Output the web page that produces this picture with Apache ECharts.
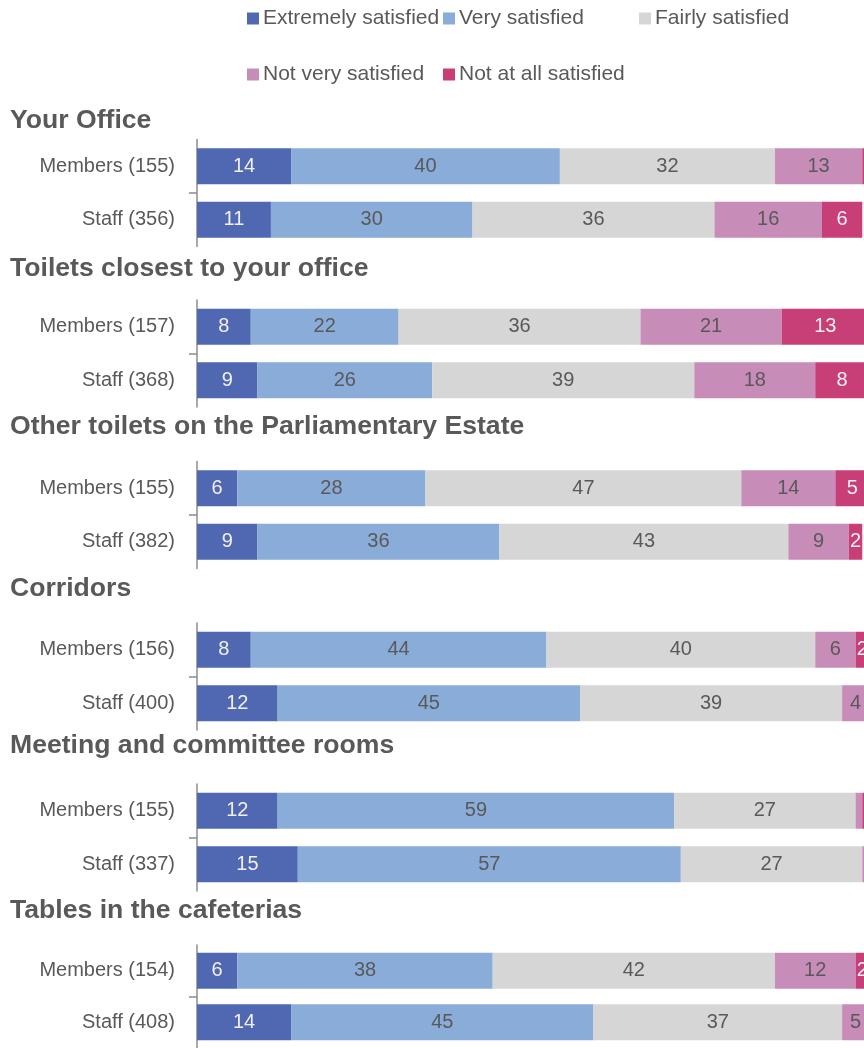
<!DOCTYPE html>
<html>
<head>
<meta charset="utf-8">
<script src="https://cdn.jsdelivr.net/npm/echarts@6/dist/echarts.min.js"></script>
<style>
  html, body { margin: 0; padding: 0; background: #ffffff; overflow: hidden; width: 864px; height: 1048px; }
  /* the plot runs slightly past the right edge of the page, as in the printed figure */
  #chart { width: 884px; height: 1048px; }
</style>
</head>
<body>
<div id="chart"></div>
<script>
// Section headings and the two respondent groups inside each section
const sections = [
  'Your Office',
  'Toilets closest to your office',
  'Other toilets on the Parliamentary Estate',
  'Corridors',
  'Meeting and committee rooms',
  'Tables in the cafeterias'
];
const groups = [
  ['Members (155)', 'Staff (356)'],
  ['Members (157)', 'Staff (368)'],
  ['Members (155)', 'Staff (382)'],
  ['Members (156)', 'Staff (400)'],
  ['Members (155)', 'Staff (337)'],
  ['Members (154)', 'Staff (408)']
];
const levels = ['Extremely satisfied', 'Very satisfied', 'Fairly satisfied', 'Not very satisfied', 'Not at all satisfied'];

// Percentages per section: [Members, Staff]
const extremelySatisfied = [[14, 11], [8, 9], [6, 9], [8, 12], [12, 15], [6, 14]];
const verySatisfied      = [[40, 30], [22, 26], [28, 36], [44, 45], [59, 57], [38, 45]];
const fairlySatisfied    = [[32, 36], [36, 39], [47, 43], [40, 39], [27, 27], [42, 37]];
const notVerySatisfied   = [[13, 16], [21, 18], [14, 9], [6, 4], [1, 1], [12, 5]];
const notAtAllSatisfied  = [[1, 6], [13, 8], [5, 2], [2, 1], [1, 0], [2, 0]];

const seriesValues = [extremelySatisfied, verySatisfied, fairlySatisfied, notVerySatisfied, notAtAllSatisfied];
const colors = ['#5068B2', '#8AACD8', '#D6D6D6', '#C88CB9', '#C83F78'];
const labelColors = ['#F0F0F0', '#595959', '#595959', '#595959', '#F0F0F0'];

const FONT = '"Liberation Sans", Arial, sans-serif';
const TEXT = '#595959';

// layout of each section block
const gridTops = [139.5, 300, 461.5, 623, 784, 945];
const headingY = [120, 268, 426, 588, 745, 910];
const gridLeft = 197, gridWidth = 672, gridHeight = 107;

const grid = [], xAxis = [], yAxis = [], series = [], graphic = [];

sections.forEach((title, g) => {
  grid.push({ left: gridLeft, top: gridTops[g], width: gridWidth, height: gridHeight, containLabel: false });
  xAxis.push({ gridIndex: g, type: 'value', min: 0, max: 100, show: false });
  // category axis carrying the bars and their labels
  yAxis.push({
    gridIndex: g, type: 'category', inverse: true, data: groups[g],
    axisLine: { show: true, lineStyle: { color: '#8C8C8C', width: 1.5 } },
    axisTick: { show: false },
    axisLabel: { color: TEXT, fontSize: 20, fontFamily: FONT, margin: 22 },
    splitLine: { show: false }
  });
  // companion axis that draws only the divider tick between the two rows
  yAxis.push({
    gridIndex: g, type: 'category', boundaryGap: false, data: ['', '', ''],
    position: 'left', offset: 0,
    axisLine: { show: false },
    axisLabel: { show: false },
    axisTick: { show: true, length: 8, interval: (i) => i === 1, lineStyle: { color: '#8C8C8C', width: 1.5 } },
    splitLine: { show: false }
  });
  graphic.push({
    type: 'text', left: 10, top: headingY[g] - 13,
    style: { text: title, fill: TEXT, font: 'bold 26.6px ' + FONT }
  });
  levels.forEach((name, s) => {
    series.push({
      name: name, type: 'bar', stack: 'sec' + g,
      xAxisIndex: g, yAxisIndex: g * 2,
      barWidth: 36,
      data: seriesValues[s][g],
      itemStyle: { color: colors[s] },
      label: {
        show: true, position: 'inside', fontSize: 20, fontFamily: FONT, color: labelColors[s],
        // slivers of 1% are too narrow to carry a number
        formatter: (p) => (p.value > 1 ? String(p.value) : '')
      },
      emphasis: { disabled: true }
    });
  });
});

// legend entries laid out in two rows
const legendSpots = [
  { name: levels[0], left: 247, top: 8 },
  { name: levels[1], left: 443, top: 8 },
  { name: levels[2], left: 639, top: 8 },
  { name: levels[3], left: 247, top: 64 },
  { name: levels[4], left: 443, top: 64 }
];
const legend = legendSpots.map((l) => ({
  data: [l.name], left: l.left, top: l.top, orient: 'horizontal',
  icon: 'rect', itemWidth: 12, itemHeight: 12, itemGap: 0, padding: 0,
  selectedMode: false,
  textStyle: { color: TEXT, fontSize: 21, fontFamily: FONT, padding: [0, 0, 0, -1] }
}));

const chart = echarts.init(document.getElementById('chart'), null, { renderer: 'canvas' });
chart.setOption({
  animation: false,
  backgroundColor: '#ffffff',
  textStyle: { fontFamily: FONT },
  legend: legend,
  grid: grid,
  xAxis: xAxis,
  yAxis: yAxis,
  series: series,
  graphic: graphic
});
</script>
</body>
</html>
